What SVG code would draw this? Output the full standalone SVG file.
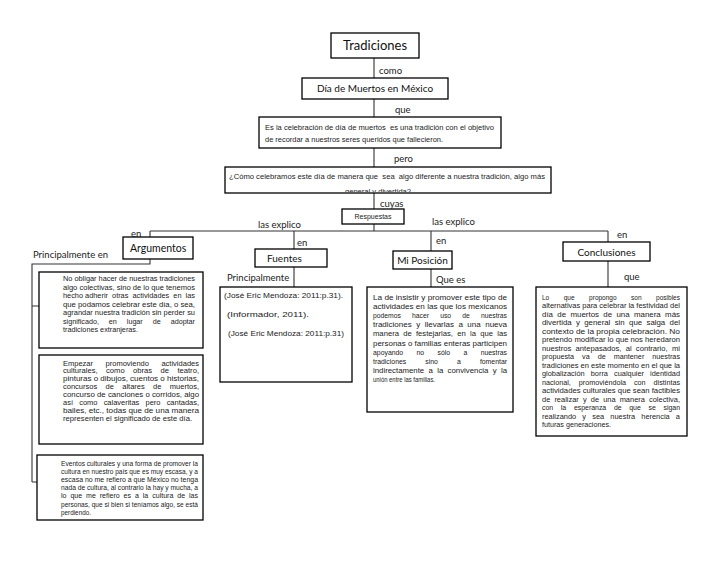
<svg xmlns="http://www.w3.org/2000/svg" width="728" height="563" viewBox="0 0 728 563">
<style>
.box{fill:#fff;stroke:#000;stroke-width:1.3}
.ln{stroke:#333;stroke-width:1.1;fill:none}
.lbl{font-family:Lato,"Liberation Sans",sans-serif;font-size:9.5px;fill:#222}
.ttl{font-family:Lato,"Liberation Sans",sans-serif;fill:#111}
.b{font-family:"Liberation Sans",Arial,sans-serif;font-size:8px;fill:#222;white-space:pre}
.s{font-family:"Liberation Sans",Arial,sans-serif;font-size:7px;fill:#222;white-space:pre}
</style>
<defs>
<clipPath id="c4"><rect x="225" y="167" width="326" height="25"/></clipPath>
</defs>
<rect width="728" height="563" fill="#fff"/>
<g id="connectors">
<path class="ln" d="M374 58V78M374 99V117M374 148V167M374 193V209M374 224V231M150 231H608M150 231V237M150 259V264H32V482M32 306H39M32 482H37M294 231V249M294 267V287M431 231V251M431 269V287M608 231V242M608 261V287"/>
</g>
<g id="tradiciones">
<rect class="box" x="331" y="33" width="88" height="25"/>
<text class="ttl" x="375" y="50" font-size="13" text-anchor="middle">Tradiciones</text>
</g>
<g id="dia">
<rect class="box" x="302" y="78" width="146" height="21"/>
<text class="ttl" x="375" y="92" font-size="10" text-anchor="middle">Día de Muertos en México</text>
</g>
<g id="celebracion">
<rect class="box" x="259" y="117" width="242" height="31"/>
<text class="b" x="265" y="130" textLength="229" lengthAdjust="spacingAndGlyphs">Es la celebración de día de muertos  es una tradición con el objetivo</text>
<text class="b" x="265" y="142" textLength="178" lengthAdjust="spacingAndGlyphs">de recordar a nuestros seres queridos que fallecieron.</text>
</g>
<g id="pregunta">
<rect class="box" x="225" y="167" width="326" height="26"/>
<g clip-path="url(#c4)">
<text class="b" x="229" y="179" textLength="316" lengthAdjust="spacingAndGlyphs">¿Cómo celebramos este día de manera que  sea  algo diferente a nuestra tradición, algo más</text>
<text class="b" x="378" y="194" text-anchor="middle" textLength="66" lengthAdjust="spacingAndGlyphs">general y divertida?</text>
</g>
</g>
<g id="respuestas">
<rect class="box" x="342" y="209" width="62" height="15"/>
<text class="s" x="373" y="219" text-anchor="middle">Respuestas</text>
</g>
<g id="labels">
<text class="lbl" x="379" y="74">como</text>
<text class="lbl" x="395" y="113">que</text>
<text class="lbl" x="394" y="162">pero</text>
<text class="lbl" x="380" y="207">cuyas</text>
<text class="lbl" x="258" y="228">las explico</text>
<text class="lbl" x="432" y="225">las explico</text>
<text class="lbl" x="131" y="237">en</text>
<text class="lbl" x="297" y="246">en</text>
<text class="lbl" x="436" y="244">en</text>
<text class="lbl" x="617" y="238">en</text>
<text class="lbl" x="33" y="258">Principalmente en</text>
<text class="lbl" x="227" y="281">Principalmente</text>
<text class="lbl" x="436" y="283">Que es</text>
<text class="lbl" x="624" y="280">que</text>
</g>
<g id="argumentos">
<rect class="box" x="123" y="237" width="70" height="22"/>
<text class="ttl" x="130" y="252" font-size="10.5">Argumentos</text>
</g>
<g id="arg1">
<rect class="box" x="39" y="272" width="164" height="76"/>
<text class="b" x="63" y="281" textLength="132" lengthAdjust="spacingAndGlyphs">No obligar hacer de nuestras tradiciones</text>
<text class="b" x="63" y="289.5" textLength="132" lengthAdjust="spacingAndGlyphs">algo colectivas, sino de lo que tenemos</text>
<text class="b" x="63" y="298" textLength="132" lengthAdjust="spacingAndGlyphs">hecho adherir  otras  actividades  en  las</text>
<text class="b" x="63" y="306.5" textLength="132" lengthAdjust="spacingAndGlyphs">que podamos celebrar este día, o sea,</text>
<text class="b" x="63" y="315" textLength="132" lengthAdjust="spacingAndGlyphs">agrandar nuestra tradición sin perder su</text>
<text class="b" x="63" y="323.5" textLength="132" lengthAdjust="spacingAndGlyphs">significado,     en     lugar     de     adoptar</text>
<text class="b" x="63" y="332" textLength="75" lengthAdjust="spacingAndGlyphs">tradiciones extranjeras.</text>
</g>
<g id="arg2">
<rect class="box" x="39" y="355" width="164" height="89"/>
<text class="b" x="63" y="365.5" textLength="136" lengthAdjust="spacingAndGlyphs">Empezar      promoviendo      actividades</text>
<text class="b" x="63" y="373.4" textLength="136" lengthAdjust="spacingAndGlyphs">culturales,    como    obras    de    teatro,</text>
<text class="b" x="63" y="381.3" textLength="136" lengthAdjust="spacingAndGlyphs">pinturas o dibujos, cuentos o historias,</text>
<text class="b" x="63" y="389.2" textLength="136" lengthAdjust="spacingAndGlyphs">concursos    de    altares    de    muertos,</text>
<text class="b" x="63" y="397.1" textLength="136" lengthAdjust="spacingAndGlyphs">concurso de canciones o corridos, algo</text>
<text class="b" x="63" y="405" textLength="136" lengthAdjust="spacingAndGlyphs">así   como   calaveritas   pero   cantadas,</text>
<text class="b" x="63" y="412.9" textLength="136" lengthAdjust="spacingAndGlyphs">bailes, etc., todas que de una manera</text>
<text class="b" x="63" y="420.8" textLength="129" lengthAdjust="spacingAndGlyphs">representen el significado de este día.</text>
</g>
<g id="arg3">
<rect class="box" x="37" y="455" width="166" height="65"/>
<text class="s" x="61" y="465.5" textLength="137" lengthAdjust="spacingAndGlyphs">Eventos culturales y una forma de promover la</text>
<text class="s" x="61" y="473.7" textLength="137" lengthAdjust="spacingAndGlyphs">cultura en nuestro país que es muy escasa, y a</text>
<text class="s" x="61" y="481.9" textLength="137" lengthAdjust="spacingAndGlyphs">escasa no me refiero a que México no tenga</text>
<text class="s" x="61" y="490.1" textLength="137" lengthAdjust="spacingAndGlyphs">nada de cultura, al contrario la hay y mucha, a</text>
<text class="s" x="61" y="498.3" textLength="137" lengthAdjust="spacingAndGlyphs">lo  que  me  refiero  es  a  la  cultura  de  las</text>
<text class="s" x="61" y="506.5" textLength="137" lengthAdjust="spacingAndGlyphs">personas, que si bien si teníamos algo, se está</text>
<text class="s" x="61" y="514.7" textLength="30" lengthAdjust="spacingAndGlyphs">perdiendo.</text>
</g>
<g id="fuentes">
<rect class="box" x="255" y="249" width="72" height="18"/>
<text class="ttl" x="267" y="262" font-size="10">Fuentes</text>
</g>
<g id="fuentes-lista">
<rect class="box" x="220" y="287" width="132" height="95"/>
<text class="b" x="224" y="298" textLength="119" lengthAdjust="spacingAndGlyphs">(José Eric Mendoza: 2011:p.31).</text>
<text class="b" x="227" y="317" textLength="82" lengthAdjust="spacingAndGlyphs">(Informador, 2011).</text>
<text class="b" x="228" y="336" textLength="116" lengthAdjust="spacingAndGlyphs">(José Eric Mendoza: 2011:p.31)</text>
</g>
<g id="posicion">
<rect class="box" x="393" y="251" width="59" height="18"/>
<text class="ttl" x="422.5" y="264" font-size="10" text-anchor="middle">Mi Posición</text>
</g>
<g id="posicion-texto">
<rect class="box" x="367" y="287" width="146" height="125"/>
<text class="b" x="373" y="300" textLength="134" lengthAdjust="spacingAndGlyphs">La de insistir y promover este tipo de</text>
<text class="b" x="373" y="309.1" textLength="134" lengthAdjust="spacingAndGlyphs">actividades en las que los mexicanos</text>
<text class="b" x="373" y="318.2" textLength="134" lengthAdjust="spacingAndGlyphs">podemos      hacer      uso      de      nuestras</text>
<text class="b" x="373" y="327.3" textLength="134" lengthAdjust="spacingAndGlyphs">tradiciones  y  llevarlas  a  una  nueva</text>
<text class="b" x="373" y="336.4" textLength="134" lengthAdjust="spacingAndGlyphs">manera  de  festejarlas,  en  la  que  las</text>
<text class="b" x="373" y="345.5" textLength="134" lengthAdjust="spacingAndGlyphs">personas o familias enteras participen</text>
<text class="b" x="373" y="354.6" textLength="134" lengthAdjust="spacingAndGlyphs">apoyando       no       sólo       a       nuestras</text>
<text class="b" x="373" y="363.7" textLength="134" lengthAdjust="spacingAndGlyphs">tradiciones          sino          a          fomentar</text>
<text class="b" x="373" y="372.8" textLength="134" lengthAdjust="spacingAndGlyphs">indirectamente  a  la  convivencia  y  la</text>
<text class="b" x="373" y="381.9" textLength="62" lengthAdjust="spacingAndGlyphs">unión entre las familias.</text>
</g>
<g id="conclusiones">
<rect class="box" x="563" y="242" width="87" height="19"/>
<text class="ttl" x="606.5" y="255.5" font-size="10" text-anchor="middle">Conclusiones</text>
</g>
<g id="conclusiones-texto">
<rect class="box" x="536" y="287" width="151" height="149"/>
<text class="b" x="542" y="299.5" textLength="138" lengthAdjust="spacingAndGlyphs">Lo        que        propongo        son        posibles</text>
<text class="b" x="542" y="308" textLength="138" lengthAdjust="spacingAndGlyphs">alternativas para celebrar la festividad del</text>
<text class="b" x="542" y="316.5" textLength="138" lengthAdjust="spacingAndGlyphs">día  de  muertos  de  una  manera  más</text>
<text class="b" x="542" y="325" textLength="138" lengthAdjust="spacingAndGlyphs">divertida  y  general  sin  que  salga  del</text>
<text class="b" x="542" y="333.5" textLength="138" lengthAdjust="spacingAndGlyphs">contexto de la propia celebración. No</text>
<text class="b" x="542" y="342" textLength="138" lengthAdjust="spacingAndGlyphs">pretendo modificar lo que nos heredaron</text>
<text class="b" x="542" y="350.5" textLength="138" lengthAdjust="spacingAndGlyphs">nuestros  antepasados,  al  contrario,  mi</text>
<text class="b" x="542" y="359" textLength="138" lengthAdjust="spacingAndGlyphs">propuesta    va    de    mantener    nuestras</text>
<text class="b" x="542" y="367.5" textLength="138" lengthAdjust="spacingAndGlyphs">tradiciones en este momento en el que la</text>
<text class="b" x="542" y="376" textLength="138" lengthAdjust="spacingAndGlyphs">globalización   borra   cualquier   identidad</text>
<text class="b" x="542" y="384.5" textLength="138" lengthAdjust="spacingAndGlyphs">nacional,    promoviéndola    con    distintas</text>
<text class="b" x="542" y="393" textLength="138" lengthAdjust="spacingAndGlyphs">actividades culturales que sean factibles</text>
<text class="b" x="542" y="401.5" textLength="138" lengthAdjust="spacingAndGlyphs">de  realizar  y  de  una  manera  colectiva,</text>
<text class="b" x="542" y="410" textLength="138" lengthAdjust="spacingAndGlyphs">con    la    esperanza    de    que    se    sigan</text>
<text class="b" x="542" y="418.5" textLength="138" lengthAdjust="spacingAndGlyphs">realizando   y   sea   nuestra   herencia   a</text>
<text class="b" x="542" y="427" textLength="69" lengthAdjust="spacingAndGlyphs">futuras generaciones.</text>
</g>
</svg>
